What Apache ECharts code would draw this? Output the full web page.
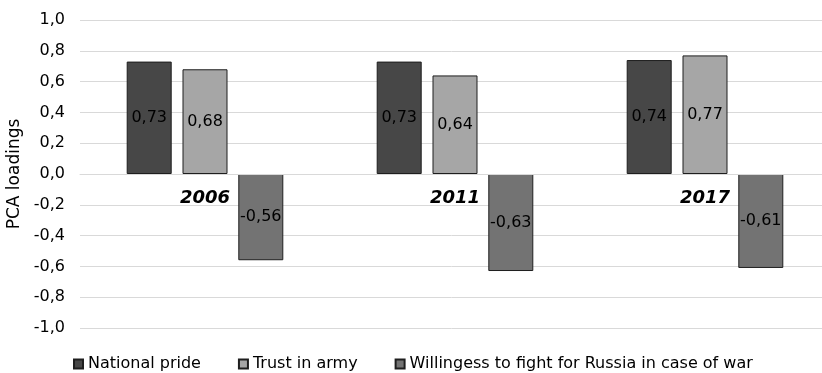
<!DOCTYPE html>
<html>
<head>
<meta charset="utf-8">
<script src="https://cdn.jsdelivr.net/npm/echarts@6/dist/echarts.min.js"></script>
<style>
  html, body { margin: 0; padding: 0; background: #fff; }
  #chart { width: 822px; height: 373px; }
</style>
</head>
<body>
<div id="chart"></div>
<script>
// Survey years shown on the category axis
const years = ['2006', '2011', '2017'];

// PCA loadings per item and year
const nationalPride = [0.73, 0.73, 0.74];
const trustInArmy = [0.68, 0.64, 0.77];
const willingnessToFight = [-0.56, -0.63, -0.61];

const seriesNames = ['National pride', 'Trust in army', 'Willingess to fight for Russia in case of war'];

const FONT = '"DejaVu Sans", Verdana, sans-serif';

// Decimal comma formatting, e.g. 0.73 -> "0,73"
function comma(v, digits) {
  if (Math.abs(v) < 1e-9) v = 0;
  return v.toFixed(digits).replace('.', ',');
}

function barSeries(name, data, color) {
  return {
    name: name,
    type: 'bar',
    data: data,
    barWidth: 45,
    barGap: '24%',
    itemStyle: { color: color, borderColor: '#1e1e1e', borderWidth: 1 },
    label: {
      show: true,
      position: 'inside',
      color: '#000',
      fontFamily: FONT,
      fontSize: 16,
      formatter: p => comma(p.value, 2)
    }
  };
}

const chart = echarts.init(document.getElementById('chart'), null, { renderer: 'canvas' });

const gridTop = 20;
const gridHeight = 308;

chart.setOption({
  animation: false,
  backgroundColor: '#fff',
  grid: {
    left: 80,
    top: gridTop,
    width: 750,
    height: gridHeight,
    containLabel: false,
    outerBoundsMode: 'none'
  },
  legend: {
    left: 68,
    top: 351,
    icon: 'rect',
    itemWidth: 9,
    itemHeight: 9,
    itemGap: 37,
    textStyle: { fontFamily: FONT, fontSize: 16, color: '#000' },
    data: seriesNames
  },
  xAxis: {
    type: 'category',
    data: years,
    // category labels sit just under the zero line
    offset: -gridHeight / 2,
    axisLine: { onZero: false, lineStyle: { color: '#d9d9d9', width: 1 } },
    axisTick: { show: false },
    axisLabel: {
      margin: 15,
      color: '#000',
      fontFamily: FONT,
      fontSize: 18,
      fontWeight: 'bold',
      fontStyle: 'italic'
    },
    z: 10
  },
  yAxis: {
    type: 'value',
    min: -1,
    max: 1,
    interval: 0.2,
    name: 'PCA loadings',
    nameLocation: 'middle',
    nameGap: 57,
    nameTextStyle: { fontFamily: FONT, fontSize: 17, color: '#000' },
    axisLine: { show: false },
    axisTick: { show: false },
    splitLine: { lineStyle: { color: '#d9d9d9', width: 1 } },
    axisLabel: {
      margin: 15,
      color: '#000',
      fontFamily: FONT,
      fontSize: 16,
      formatter: v => comma(v, 1)
    }
  },
  series: [
    barSeries(seriesNames[0], nationalPride, '#474747'),
    barSeries(seriesNames[1], trustInArmy, '#a6a6a6'),
    barSeries(seriesNames[2], willingnessToFight, '#737373')
  ]
});
</script>
</body>
</html>
